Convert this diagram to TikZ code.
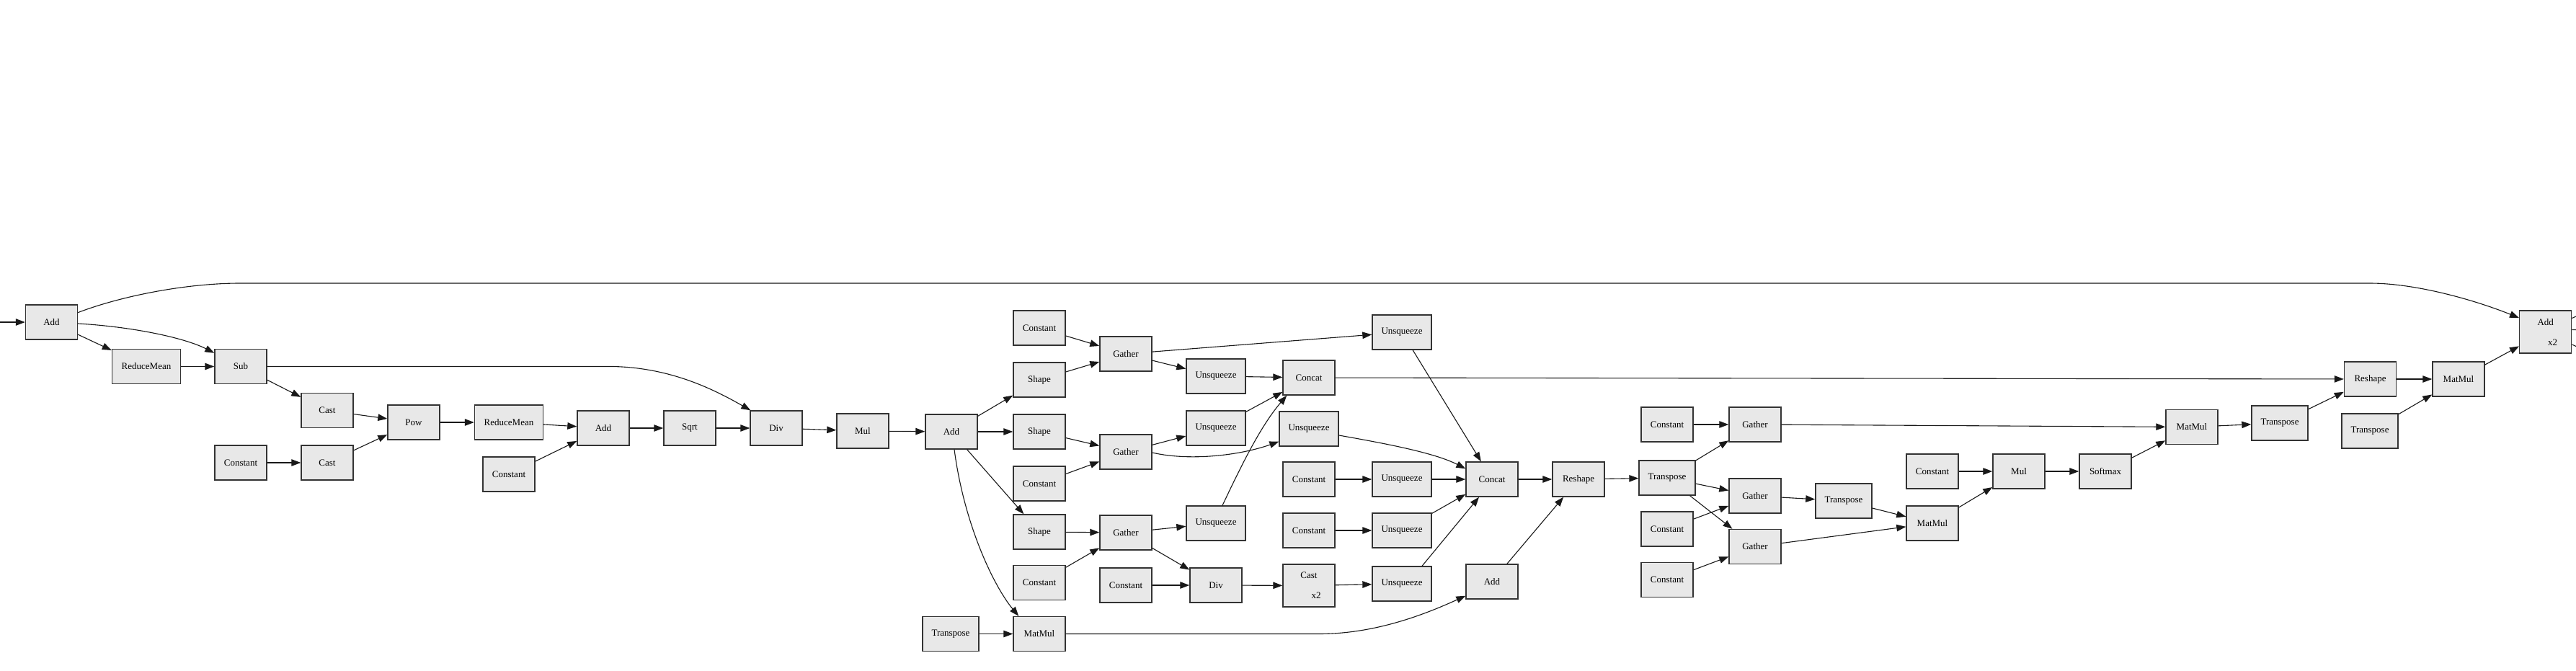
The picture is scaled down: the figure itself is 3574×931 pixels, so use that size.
\documentclass[tikz,border=0pt]{standalone}
\usepackage{fontspec}
\setmainfont{Liberation Serif}
\usepackage{tikz}
\usetikzlibrary{arrows.meta}
\definecolor{opfill}{HTML}{E8E8E8}
\definecolor{opline}{HTML}{333333}
\tikzset{
  opnode/.style={rectangle, minimum width=72pt, minimum height=48pt, inner sep=0pt, text centered, draw=opline, line width=1.4pt, fill=opfill, font=\fontsize{13}{16}\selectfont},
  widenode/.style={opnode, minimum width=95pt},
  unsqnode/.style={opnode, minimum width=82pt},
  transnode/.style={opnode, minimum width=78pt},
  multinode/.style={opnode, minimum height=59pt, align=center},
  arrow/.style={line width=1.1pt, draw=black!90, -{Triangle[length=13pt,width=9.5pt]}},
  plain/.style={line width=1.1pt, draw=black!90}
}

\begin{document}
\begin{tikzpicture}[x=1pt, y=-1pt]
    \path [use as bounding box, fill=white] (0,0) rectangle (3574,931);

    \coordinate (src) at (0,447);
    \node (add1) [opnode] at (71.5,447) {Add};
    \node (rmean1) [widenode] at (203,508.5) {ReduceMean};
    \node (sub) [opnode] at (334,508.5) {Sub};
    \node (cast1) [opnode] at (454,569.5) {Cast};
    \node (const1) [opnode] at (334,642) {Constant};
    \node (cast2) [opnode] at (454,642) {Cast};
    \node (pow) [opnode] at (574,586) {Pow};
    \node (rmean2) [widenode] at (706,586) {ReduceMean};
    \node (const2) [opnode] at (706,658) {Constant};
    \node (add2) [opnode] at (837,594) {Add};
    \node (sqrt) [opnode] at (957,594) {Sqrt};
    \node (div1) [opnode] at (1077,594) {Div};
    \node (mul1) [opnode] at (1197,598) {Mul};
    \node (add3) [opnode] at (1320,599) {Add};

    \node (const3) [opnode] at (1442,455) {Constant};
    \node (shape1) [opnode] at (1442,527) {Shape};
    \node (shape2) [opnode] at (1442,599) {Shape};
    \node (const4) [opnode] at (1442,671) {Constant};
    \node (shape3) [opnode] at (1442,738) {Shape};
    \node (const5) [opnode] at (1442,808.5) {Constant};
    \node (tr1) [transnode] at (1319,879.5) {Transpose};
    \node (matmul1) [opnode] at (1442,879.5) {MatMul};

    \node (gather1) [opnode] at (1562,491) {Gather};
    \node (gather2) [opnode] at (1562,627) {Gather};
    \node (gather3) [opnode] at (1562,739) {Gather};
    \node (const6) [opnode] at (1562,812) {Constant};
    \node (unsq1) [unsqnode] at (1687,522) {Unsqueeze};
    \node (unsq2) [unsqnode] at (1687,594) {Unsqueeze};
    \node (unsq3) [unsqnode] at (1687,726) {Unsqueeze};
    \node (div2) [opnode] at (1687,812) {Div};

    \node (concat1) [opnode] at (1816,524) {Concat};
    \node (unsq4) [unsqnode] at (1816,595) {Unsqueeze};
    \node (const7) [opnode] at (1816,665) {Constant};
    \node (const8) [opnode] at (1816,736) {Constant};
    \node (cast3) [multinode] at (1816,812.5) {Cast\\[12pt]\hspace*{20pt}x2};
    \node (unsq5) [unsqnode] at (1945,461) {Unsqueeze};
    \node (unsq6) [unsqnode] at (1945,665) {Unsqueeze};
    \node (unsq7) [unsqnode] at (1945,736) {Unsqueeze};
    \node (unsq8) [unsqnode] at (1945,810) {Unsqueeze};
    \node (concat2) [opnode] at (2070,665) {Concat};
    \node (add4) [opnode] at (2070,807) {Add};
    \node (reshape1) [opnode] at (2190,665) {Reshape};

    \node (tr2) [transnode] at (2313,663) {Transpose};
    \node (const9) [opnode] at (2313,589) {Constant};
    \node (const10) [opnode] at (2313,734) {Constant};
    \node (const11) [opnode] at (2313,804.5) {Constant};
    \node (gather4) [opnode] at (2435,589) {Gather};
    \node (gather5) [opnode] at (2435,688) {Gather};
    \node (gather6) [opnode] at (2435,758.5) {Gather};
    \node (tr3) [transnode] at (2558,695) {Transpose};
    \node (matmul2) [opnode] at (2681,726) {MatMul};
    \node (const12) [opnode] at (2681,654) {Constant};
    \node (mul2) [opnode] at (2801,654) {Mul};
    \node (softmax) [opnode] at (2921,654) {Softmax};
    \node (matmul3) [opnode] at (3041,592.5) {MatMul};
    \node (tr4) [transnode] at (3163,587) {Transpose};
    \node (reshape2) [opnode] at (3288.5,526) {Reshape};
    \node (tr5) [transnode] at (3288,598) {Transpose};
    \node (matmul4) [opnode] at (3411,526) {MatMul};
    \node (add5) [multinode] at (3531.7,460.5) {Add\\[12pt]\hspace*{20pt}x2};
    \coordinate (dst1) at (3574,439);
    \coordinate (dst2) at (3574,457.7);
    \coordinate (dst3) at (3574,480.5);

    \draw [arrow] (src) -- (add1);
    \draw [arrow] (add1) -- (rmean1);
    \draw [arrow] ([yshift=-2pt]add1.east) .. controls (180,453) and (255,468) .. (sub.153);
    \draw [arrow] (add1.20) .. controls (170,410) and (260,393) .. (333,393) -- (3288,393) .. controls (3350,393) and (3430,415) .. (add5.152);
    \draw [arrow] (rmean1) -- (sub);
    \draw [arrow] (sub) -- (cast1);
    \draw [arrow] (sub.east) -- (850,508.5) .. controls (930,510) and (990,540) .. ([xshift=1pt]div1.north west);
    \draw [arrow] (cast1) -- (pow);
    \draw [arrow] (const1) -- (cast2);
    \draw [arrow] (cast2) -- (pow);
    \draw [arrow] (pow) -- (rmean2);
    \draw [arrow] (rmean2) -- (add2);
    \draw [arrow] (const2) -- (add2);
    \draw [arrow] (add2) -- (sqrt);
    \draw [arrow] (sqrt) -- (div1);
    \draw [arrow] (div1) -- (mul1);
    \draw [arrow] (mul1) -- (add3);
    \draw [arrow] (add3) -- (shape1);
    \draw [arrow] (add3) -- (shape2);
    \draw [arrow] (add3) -- (shape3);
    \draw [arrow] ([xshift=4pt]add3.south) .. controls (1338,730) and (1380,815) .. ([xshift=8pt]matmul1.north west);
    \draw [arrow] (const3) -- (gather1);
    \draw [arrow] (shape1) -- (gather1);
    \draw [arrow] (shape2) -- (gather2);
    \draw [arrow] (const4) -- (gather2);
    \draw [arrow] (shape3) -- (gather3);
    \draw [arrow] (const5) -- (gather3);
    \draw [arrow] (tr1) -- (matmul1);
    \draw [arrow] (gather1) -- (unsq5);
    \draw [arrow] (gather1) -- (unsq1);
    \draw [arrow] (gather2) -- (unsq2);
    \draw [arrow] ([yshift=-1pt]gather2.east) .. controls (1650,640) and (1720,632) .. ([yshift=7pt]unsq4.south west);
    \draw [arrow] (gather3) -- (unsq3);
    \draw [arrow] (gather3) -- (div2);
    \draw [arrow] (const6) -- (div2);
    \draw [arrow] (div2) -- (cast3);
    \draw [arrow] (cast3) -- (unsq8);
    \draw [arrow] (unsq1) -- (concat1);
    \draw [arrow] (unsq2) -- (concat1);
    \draw [arrow] ([xshift=9pt]unsq3.north) .. controls (1725,640) and (1750,590) .. ([xshift=6pt]concat1.south west);
    \draw [arrow] (unsq5) -- (concat2);
    \draw [arrow] ([yshift=-9pt]unsq4.east) .. controls (1920,615) and (1990,628) .. ([yshift=-10pt]concat2.north west);
    \draw [arrow] (const7) -- (unsq6);
    \draw [arrow] (unsq6) -- (concat2);
    \draw [arrow] (const8) -- (unsq7);
    \draw [arrow] (unsq7) -- (concat2);
    \draw [arrow] ([xshift=28pt]unsq8.north) -- ([xshift=-18pt]concat2.south);
    \draw [arrow] (matmul1.east) -- (1830,879.5) .. controls (1900,879.5) and (1965,858) .. ([yshift=5pt]add4.south west);
    \draw [arrow] (concat1) -- (reshape2);
    \draw [arrow] (concat2) -- (reshape1);
    \draw [arrow] (add4) -- (reshape1);
    \draw [arrow] (reshape1) -- (tr2);
    \draw [arrow] (tr2) -- (gather4);
    \draw [arrow] (tr2) -- (gather5);
    \draw [arrow] (tr2) -- (gather6);
    \draw [arrow] (const9) -- (gather4);
    \draw [arrow] (const10) -- (gather5);
    \draw [arrow] (const11) -- (gather6);
    \draw [arrow] (gather4) -- (matmul3);
    \draw [arrow] (gather5) -- (tr3);
    \draw [arrow] (gather6) -- (matmul2);
    \draw [arrow] (tr3) -- (matmul2);
    \draw [arrow] (matmul2) -- (mul2);
    \draw [arrow] (const12) -- (mul2);
    \draw [arrow] (mul2) -- (softmax);
    \draw [arrow] (softmax) -- (matmul3);
    \draw [arrow] (matmul3) -- (tr4);
    \draw [arrow] (tr4) -- (reshape2);
    \draw [arrow] (reshape2) -- (matmul4);
    \draw [arrow] (tr5) -- (matmul4);
    \draw [arrow] (matmul4) -- (add5);
    \draw [plain] ([yshift=19pt]add5.east) -- (dst1);
    \draw [plain] ([yshift=3pt]add5.east) -- (dst2);
    \draw [plain] ([yshift=-17.5pt]add5.east) -- (dst3);
\end{tikzpicture}
\end{document}
